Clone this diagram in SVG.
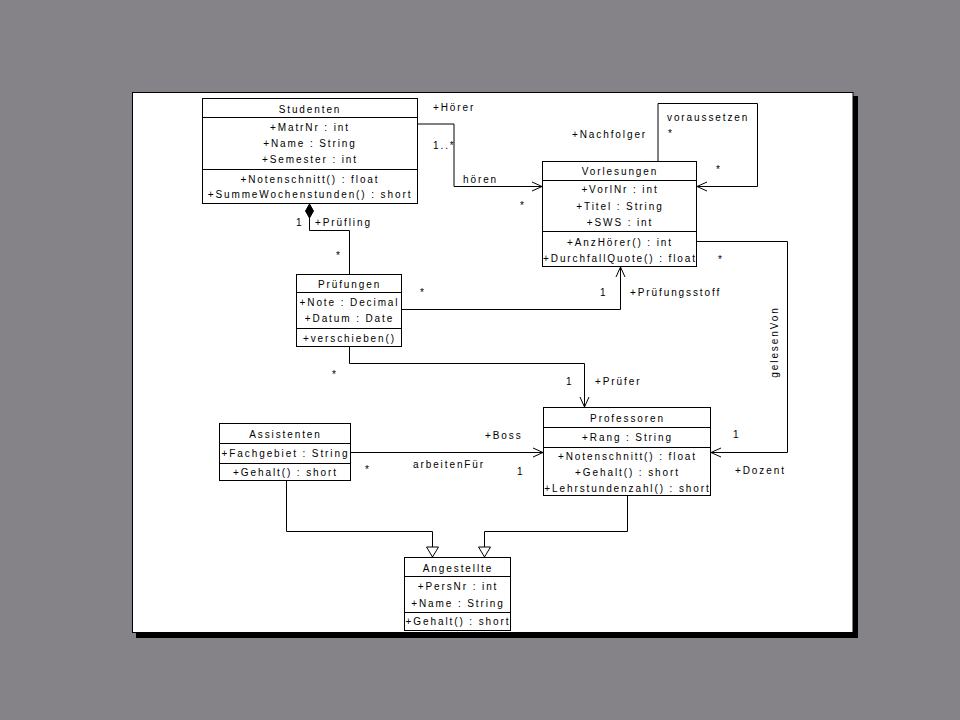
<svg xmlns="http://www.w3.org/2000/svg" width="960" height="720" viewBox="0 0 960 720">
<defs>
<style>
.t{font-family:"Liberation Sans",Arial,sans-serif;font-size:10px;letter-spacing:1.9px;fill:#000}
.c{text-anchor:middle}
.box{fill:#fff;stroke:#000;stroke-width:1}
.sep{stroke:#000;stroke-width:1}
.ln{fill:none;stroke:#000;stroke-width:1}
</style>
<marker id="open" markerUnits="userSpaceOnUse" markerWidth="12" markerHeight="12" viewBox="-11 -6 12 12" refX="0" refY="0" orient="auto" overflow="visible">
<path d="M-10,-4.5 L0,0 L-10,4.5" fill="none" stroke="#000" stroke-width="1"/>
</marker>
<marker id="gen" markerUnits="userSpaceOnUse" markerWidth="14" markerHeight="14" viewBox="-12 -7 14 14" refX="0" refY="0" orient="auto" overflow="visible">
<path d="M-10,-6 L0,0 L-10,6 Z" fill="#fff" stroke="#000" stroke-width="1"/>
</marker>
</defs>
<rect x="0" y="0" width="960" height="720" fill="#858387"/>
<rect x="136" y="96" width="722" height="542" fill="#000"/>
<rect x="132.5" y="92.5" width="720.5" height="540" fill="#fff" stroke="#000" stroke-width="1"/>

<g id="connectors">
<polyline class="ln" points="418,124 454,124 454,186.5 542,186.5" marker-end="url(#open)"/>
<polyline class="ln" points="658,161 658,103.5 757.5,103.5 757.5,186.5 697,186.5" marker-end="url(#open)"/>
<polygon points="309.5,204 313.5,211 309.5,218 305.5,211" fill="#000" stroke="#000" stroke-width="1"/>
<polyline class="ln" points="309.5,218 309.5,230.5 349.5,230.5 349.5,274"/>
<polyline class="ln" points="402,309.5 620.5,309.5 620.5,267" marker-end="url(#open)"/>
<polyline class="ln" points="349.5,347 349.5,363.5 584.5,363.5 584.5,407" marker-end="url(#open)"/>
<polyline class="ln" points="697,241.5 787.5,241.5 787.5,452.5 711,452.5" marker-end="url(#open)"/>
<polyline class="ln" points="351,452.5 543,452.5" marker-end="url(#open)"/>
<polyline class="ln" points="286.5,481 286.5,531.5 432.5,531.5 432.5,557" marker-end="url(#gen)"/>
<polyline class="ln" points="627.5,496 627.5,531.5 484.5,531.5 484.5,557" marker-end="url(#gen)"/>
<text class="t" x="433" y="110.5">+Hörer</text>
<text class="t" x="433" y="148.5">1..*</text>
<text class="t" x="463" y="182.5">hören</text>
<text class="t" x="572" y="137.5">+Nachfolger</text>
<text class="t" x="667" y="120.5">voraussetzen</text>
<text class="t" x="668" y="137">*</text>
<text class="t" x="716" y="173">*</text>
<text class="t" x="520" y="209">*</text>
<text class="t" x="718" y="263">*</text>
<text class="t" x="296" y="225.5">1</text>
<text class="t" x="315" y="225.5">+Prüfling</text>
<text class="t" x="336" y="259">*</text>
<text class="t" x="420" y="296">*</text>
<text class="t" x="600" y="295.5">1</text>
<text class="t" x="630" y="295.5">+Prüfungsstoff</text>
<text class="t" x="332" y="378">*</text>
<text class="t" x="566" y="384.5">1</text>
<text class="t" x="595" y="384.5">+Prüfer</text>
<text class="t" x="733" y="437.5">1</text>
<text class="t" x="735" y="473.5">+Dozent</text>
<text class="t" x="485" y="438.5">+Boss</text>
<text class="t" x="413" y="467.5">arbeitenFür</text>
<text class="t" x="365" y="473">*</text>
<text class="t" x="517" y="474.5">1</text>
<text class="t c" transform="translate(778,342) rotate(-90)">gelesenVon</text>
</g>

<g id="Studenten">
<rect class="box" x="202.5" y="98.5" width="215" height="105"/>
<line class="sep" x1="202.5" y1="117.5" x2="417.5" y2="117.5"/>
<line class="sep" x1="202.5" y1="169.5" x2="417.5" y2="169.5"/>
<text class="t c" x="310" y="112.5">Studenten</text>
<text class="t c" x="310" y="131">+MatrNr : int</text>
<text class="t c" x="310" y="147">+Name : String</text>
<text class="t c" x="310" y="163">+Semester : int</text>
<text class="t c" x="310" y="182.5">+Notenschnitt() : float</text>
<text class="t c" x="310" y="198">+SummeWochenstunden() : short</text>
</g>

<g id="Vorlesungen">
<rect class="box" x="542.5" y="161.5" width="154" height="105"/>
<line class="sep" x1="542.5" y1="180.5" x2="696.5" y2="180.5"/>
<line class="sep" x1="542.5" y1="231.5" x2="696.5" y2="231.5"/>
<text class="t c" x="620" y="175">Vorlesungen</text>
<text class="t c" x="620" y="192.5">+VorlNr : int</text>
<text class="t c" x="620" y="209.5">+Titel : String</text>
<text class="t c" x="620" y="225.5">+SWS : int</text>
<text class="t c" x="620" y="245.5">+AnzHörer() : int</text>
<text class="t c" x="620" y="261.5">+DurchfallQuote() : float</text>
</g>

<g id="Pruefungen">
<rect class="box" x="296.5" y="274.5" width="105" height="72"/>
<line class="sep" x1="296.5" y1="292.5" x2="401.5" y2="292.5"/>
<line class="sep" x1="296.5" y1="328.5" x2="401.5" y2="328.5"/>
<text class="t c" x="349.5" y="287.5">Prüfungen</text>
<text class="t c" x="349.5" y="305.5">+Note : Decimal</text>
<text class="t c" x="349.5" y="321.5">+Datum : Date</text>
<text class="t c" x="349.5" y="341.5">+verschieben()</text>
</g>

<g id="Professoren">
<rect class="box" x="543.5" y="407.5" width="167" height="88"/>
<line class="sep" x1="543.5" y1="427.5" x2="710.5" y2="427.5"/>
<line class="sep" x1="543.5" y1="447.5" x2="710.5" y2="447.5"/>
<text class="t c" x="627.5" y="421.5">Professoren</text>
<text class="t c" x="627.5" y="440.5">+Rang : String</text>
<text class="t c" x="627.5" y="459.5">+Notenschnitt() : float</text>
<text class="t c" x="627.5" y="475.5">+Gehalt() : short</text>
<text class="t c" x="627.5" y="491.5">+Lehrstundenzahl() : short</text>
</g>

<g id="Assistenten">
<rect class="box" x="219.5" y="423.5" width="131" height="57"/>
<line class="sep" x1="219.5" y1="443.5" x2="350.5" y2="443.5"/>
<line class="sep" x1="219.5" y1="463.5" x2="350.5" y2="463.5"/>
<text class="t c" x="285.5" y="437.5">Assistenten</text>
<text class="t c" x="285.5" y="456.5">+Fachgebiet : String</text>
<text class="t c" x="285.5" y="475.5">+Gehalt() : short</text>
</g>

<g id="Angestellte">
<rect class="box" x="404.5" y="557.5" width="106" height="73"/>
<line class="sep" x1="404.5" y1="576.5" x2="510.5" y2="576.5"/>
<line class="sep" x1="404.5" y1="612.5" x2="510.5" y2="612.5"/>
<text class="t c" x="458" y="571.5">Angestellte</text>
<text class="t c" x="458" y="589.5">+PersNr : int</text>
<text class="t c" x="458" y="606.5">+Name : String</text>
<text class="t c" x="458" y="624.5">+Gehalt() : short</text>
</g>
</svg>
